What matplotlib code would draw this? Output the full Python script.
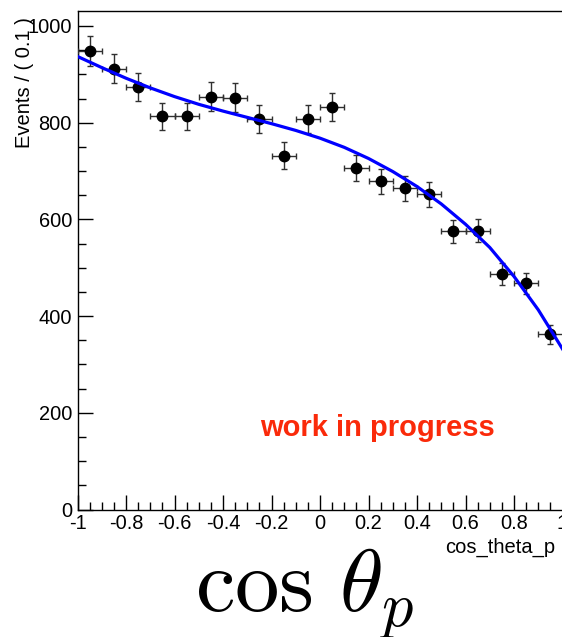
import numpy as np
import matplotlib
matplotlib.use("Agg")
import matplotlib.pyplot as plt
from matplotlib.ticker import MultipleLocator

plt.rcParams['font.family'] = ['Liberation Sans', 'DejaVu Sans']
plt.rcParams['mathtext.fontset'] = 'cm'

# binned events in cos_theta_p (bin width 0.1)
bin_centers = [-0.95, -0.85, -0.75, -0.65, -0.55, -0.45, -0.35, -0.25, -0.15, -0.05,
               0.05, 0.15, 0.25, 0.35, 0.45, 0.55, 0.65, 0.75, 0.85, 0.95]
counts = [948, 912, 874, 813, 813, 854, 852, 808, 732, 808,
          833, 707, 679, 664, 652, 575, 577, 487, 468, 362]
bin_half_width = 0.05

# fitted pdf sampled along cos_theta_p
fit_x = [-1.0, -0.9, -0.8, -0.7, -0.6, -0.5, -0.4, -0.3, -0.2, -0.1, 0.0,
         0.1, 0.2, 0.3, 0.4, 0.5, 0.6, 0.7, 0.8, 0.9, 1.0]
fit_y = [937, 914, 892, 872, 854, 838, 824, 811, 798, 784, 768,
         749, 726, 699, 668, 632, 590, 542, 482, 413, 332]

x_ticks = [-1, -0.8, -0.6, -0.4, -0.2, 0, 0.2, 0.4, 0.6, 0.8, 1]
x_tick_labels = ['-1', '-0.8', '-0.6', '-0.4', '-0.2', '0', '0.2', '0.4', '0.6', '0.8', '1']
y_ticks = [0, 200, 400, 600, 800, 1000]

W, H = 562, 637
fig = plt.figure(figsize=(W / 100, H / 100), dpi=100)
ax = fig.add_axes([77.5 / W, 1 - 509.5 / H, 485 / W, 498.5 / H])

yerr = np.sqrt(counts)
ax.errorbar(bin_centers, counts, xerr=bin_half_width, yerr=yerr, fmt='o',
            color='black', ms=7.5, ecolor='#303030', elinewidth=1.0,
            capsize=2.2, capthick=1.0, zorder=3)
ax.plot(fit_x, fit_y, color='#0000ff', lw=2.3, zorder=4)

ax.set_xlim(-1, 1)
ax.set_ylim(0, 1031)
ax.set_xticks(x_ticks)
ax.set_xticklabels(x_tick_labels)
ax.set_yticks(y_ticks)
ax.xaxis.set_minor_locator(MultipleLocator(0.05))
ax.yaxis.set_minor_locator(MultipleLocator(50))
ax.tick_params(which='both', direction='in', labelsize=14.4, width=1.0,
               top=False, right=False)
ax.tick_params(which='major', length=11)
ax.tick_params(which='minor', length=5.5)
ax.tick_params(axis='y', pad=4)
ax.tick_params(axis='x', pad=3)
for s in ['left', 'bottom', 'top']:
    ax.spines[s].set_linewidth(1.0)
ax.spines['right'].set_visible(False)

fig.text(25 / W, 1 - 17 / H, 'Events / ( 0.1 )', rotation=90, ha='center',
         va='top', fontsize=14.5)
fig.text(555 / W, 1 - 547 / H, 'cos_theta_p', ha='right', va='center',
         fontsize=14.5)
fig.text(260.5 / W, 1 - 436.5 / H, 'work in progress', ha='left',
         va='baseline', fontsize=21, fontweight='bold', color='#fa2a0a')
fig.text(305 / W, 1 - 612 / H, r'$\cos\,\theta_p$', ha='center',
         va='baseline', fontsize=64)

fig.savefig('out.png', dpi=100)
